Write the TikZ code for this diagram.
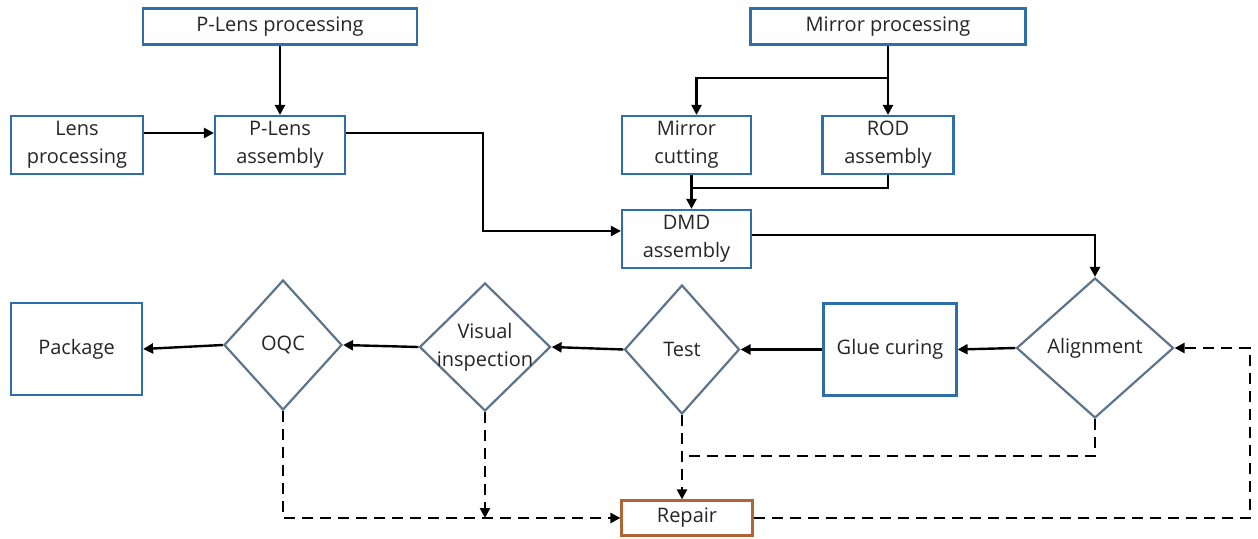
\documentclass[tikz,border=0pt]{standalone}
\usepackage{fontspec}
\setmainfont{Open Sans}
\usetikzlibrary{arrows.meta,shapes.geometric,calc}
\definecolor{boxblue}{RGB}{46,110,170}
\definecolor{diagray}{RGB}{92,116,140}
\definecolor{repbrown}{RGB}{178,100,50}
\begin{document}
\begin{tikzpicture}[x=1pt,y=-1pt,
  every node/.style={font=\fontsize{20}{28}\selectfont, text=black!85},
  box/.style={draw=boxblue, line width=2.2pt, rectangle, inner sep=0pt, align=center},
  dia/.style={draw=diagray, line width=2.2pt, diamond, inner sep=0pt},
  arr/.style={line width=2.4pt, -{Triangle[length=10pt,width=10pt]}},
  dasharr/.style={arr, dash pattern=on 11pt off 7pt},
  ln/.style={line width=2.4pt},
  dln/.style={line width=2.4pt, dash pattern=on 11pt off 7pt}]
\fill[white] (0,0) rectangle (1258,538);
\useasboundingbox (0,0) rectangle (1258,538);
% boxes
\node[box, minimum width=274pt, minimum height=36pt] (plp) at (280,26.5) {P-Lens processing};
\node[box, minimum width=275pt, minimum height=36pt] (mp) at (888,26.5) {Mirror processing};
\node[box, minimum width=132pt, minimum height=58pt] (lp) at (77,145) {Lens\\processing};
\node[box, minimum width=130pt, minimum height=58pt] (pla) at (280,145) {P-Lens\\assembly};
\node[box, minimum width=129pt, minimum height=58pt] (mc) at (686.5,145) {Mirror\\cutting};
\node[box, minimum width=131pt, minimum height=58pt] (rod) at (888,145) {ROD\\assembly};
\node[box, minimum width=129pt, minimum height=58pt] (dmd) at (686.5,239) {DMD\\assembly};
\node[box, minimum width=131pt, minimum height=92pt] (pkg) at (76.5,349) {Package};
\node[box, minimum width=133pt, minimum height=92pt] (glue) at (890,349.5) {Glue curing};
\node[box, draw=repbrown, minimum width=131pt, minimum height=35pt] (rep) at (687,518) {Repair};
% diamonds
\node[dia, minimum width=118pt, minimum height=130pt] (oqc) at (283,345) {};
\node[dia, minimum width=131pt, minimum height=128pt] (vis) at (485,347) {};
\node[dia, minimum width=115pt, minimum height=129pt] (test) at (682,349.5) {};
\node[dia, minimum width=157pt, minimum height=140pt] (align) at (1095,348) {};
\node (oqct) at (oqc.center) {OQC};
\node[align=center] (vist) at (vis.center) {Visual\\inspection};
\node (testt) at (test.center) {Test};
\node (alignt) at (align.center) {Alignment};
% solid connectors
\draw[arr] (plp.south) -- (pla.north);
\draw[arr] ([yshift=12pt]lp.east) -- ([yshift=12pt]pla.west);
\draw[arr] ([yshift=12pt]pla.east) -| ([xshift=-138pt,yshift=8pt]dmd.west) -- ([yshift=8pt]dmd.west);
\coordinate (br) at (888,78);
\draw[ln] (mp.south) -- (br);
\draw[arr] (br) -- (rod.north);
\draw[arr] (br) -| ([xshift=10pt]mc.north);
\draw[arr] ([xshift=5pt]mc.south) -- ([xshift=5pt]dmd.north);
\coordinate (jn) at (691.5,188);
\draw[ln] (rod.south) |- (jn);
\draw[arr] ([yshift=4pt]dmd.east) -| (align.north);
\draw[arr] (align.west) -- (glue.east);
\draw[arr] (glue.west) -- (test.east);
\draw[arr] (test.west) -- (vis.east);
\draw[arr] (vis.west) -- (oqc.east);
\draw[arr] (oqc.west) -- (pkg.east);
% dashed connectors
\draw[dasharr] (test.south) -- (test.south |- rep.north);
\coordinate (j2) at (682,456);
\draw[dln] (align.south) |- (j2);
\draw[dasharr] (oqc.south) |- (rep.west);
\draw[dasharr] (vis.south) -- (vis.south |- rep.west);
\coordinate (rc) at (1250,518);
\draw[dasharr] (rep.east) -- (rc) |- (align.east);
\end{tikzpicture}
\end{document}
